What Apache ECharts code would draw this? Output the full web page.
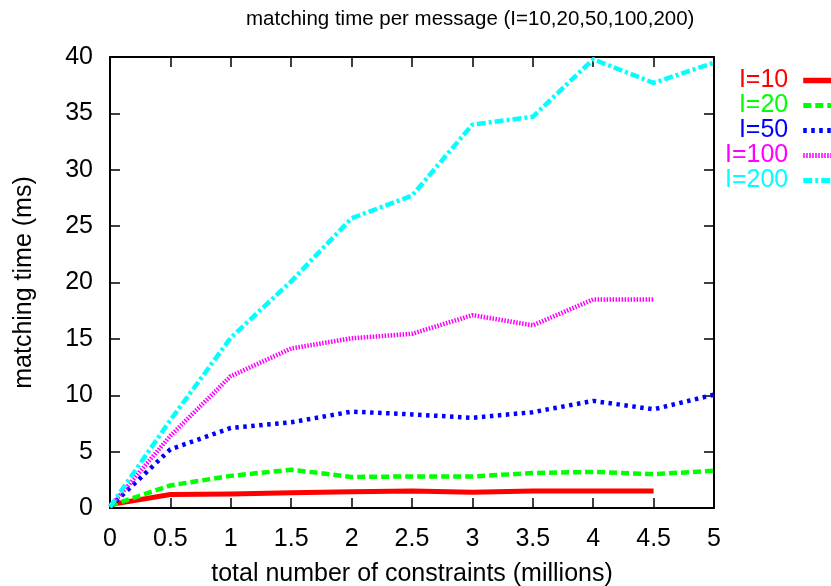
<!DOCTYPE html>
<html>
<head>
<meta charset="utf-8">
<title>matching time per message</title>
<script src="https://cdn.jsdelivr.net/npm/echarts@6/dist/echarts.min.js"></script>
<style>
  html, body { margin: 0; padding: 0; background: #fff; }
  #chart { width: 831px; height: 586px; }
</style>
</head>
<body>
<div id="chart"></div>
<script>
// x positions: total number of constraints (millions)
const constraints = [0, 0.5, 1, 1.5, 2, 2.5, 3, 3.5, 4, 4.5, 5];

// matching time per message (ms) for each l
const timeL10  = [0.3, 1.2, 1.25, 1.35, 1.45, 1.5, 1.4, 1.5, 1.5, 1.5];
const timeL20  = [0.2, 2.0, 2.85, 3.4, 2.75, 2.8, 2.8, 3.1, 3.2, 3.0, 3.3];
const timeL50  = [0.1, 5.2, 7.1, 7.6, 8.55, 8.3, 8.0, 8.5, 9.5, 8.75, 10.05];
const timeL100 = [0.1, 6.4, 11.7, 14.15, 15.05, 15.45, 17.1, 16.2, 18.5, 18.5];
const timeL200 = [0.1, 7.8, 15.1, 20.1, 25.7, 27.7, 34.0, 34.7, 39.8, 37.7, 39.5];

const seriesNames = ['I=10', 'I=20', 'I=50', 'I=100', 'I=200'];
const seriesColors = ['#ff0000', '#00ff00', '#0000ff', '#ff00ff', '#00ffff'];
const seriesDash = ['solid', [8, 4], [3.5, 4.5], [1.5, 1.5], [9, 3, 3, 3]];
const seriesWidth = [5, 4.5, 4.5, 4.5, 4.5];
const seriesValues = [timeL10, timeL20, timeL50, timeL100, timeL200];

const FONT = '"Liberation Sans", Arial, sans-serif';
const LABEL_SIZE = 25;

function pairs(values) {
  return values.map((v, i) => [constraints[i], v]);
}

const chart = echarts.init(document.getElementById('chart'), null, { renderer: 'canvas' });

const baseAxis = {
  min: 0,
  axisLine: { show: true, onZero: false, lineStyle: { color: '#000', width: 2 } },
  axisTick: { show: true, inside: true, length: 10, lineStyle: { color: '#000', width: 1.5 } },
  splitLine: { show: false }
};

chart.setOption({
  backgroundColor: '#fff',
  animation: false,
  title: {
    text: 'matching time per message (I=10,20,50,100,200)',
    left: 241,
    top: 4,
    textStyle: { fontFamily: FONT, fontSize: 20.5, fontWeight: 'normal', color: '#000' }
  },
  legend: {
    orient: 'vertical',
    align: 'right',
    right: -3,
    top: 68,
    padding: 0,
    itemGap: 0,
    itemWidth: 28,
    itemHeight: 14,
    itemStyle: { opacity: 0 },
    data: seriesNames.map((n, i) => ({
      name: n,
      textStyle: { color: seriesColors[i] },
      lineStyle: { width: seriesWidth[i] + 0.5, color: seriesColors[i], type: seriesDash[i] }
    })),
    textStyle: { fontFamily: FONT, fontSize: LABEL_SIZE, lineHeight: 25, padding: [0, 10, 0, 0] }
  },
  grid: { left: 110, right: 117, top: 57, bottom: 78, outerBoundsMode: 'none', containLabel: false },
  xAxis: [
    Object.assign({}, baseAxis, {
      type: 'value', position: 'bottom', max: 5, interval: 0.5,
      name: 'total number of constraints (millions)',
      nameLocation: 'middle', nameGap: 54,
      nameTextStyle: { fontFamily: FONT, fontSize: LABEL_SIZE, color: '#000' },
      axisLabel: { fontFamily: FONT, fontSize: LABEL_SIZE, color: '#000', margin: 19 }
    }),
    Object.assign({}, baseAxis, {
      type: 'value', position: 'top', max: 5, interval: 0.5,
      axisLabel: { show: false }
    })
  ],
  yAxis: [
    Object.assign({}, baseAxis, {
      type: 'value', position: 'left', max: 40, interval: 5,
      name: 'matching time (ms)',
      nameLocation: 'middle', nameGap: 73,
      nameTextStyle: { fontFamily: FONT, fontSize: LABEL_SIZE, color: '#000' },
      axisLabel: { fontFamily: FONT, fontSize: LABEL_SIZE, color: '#000', margin: 17 }
    }),
    Object.assign({}, baseAxis, {
      type: 'value', position: 'right', max: 40, interval: 5,
      axisLabel: { show: false }
    })
  ],
  series: seriesNames.map((n, i) => ({
    name: n,
    type: 'line',
    xAxisIndex: 0,
    yAxisIndex: 0,
    data: pairs(seriesValues[i]),
    showSymbol: false,
    symbol: 'none',
    color: seriesColors[i],
    lineStyle: { color: seriesColors[i], width: seriesWidth[i], type: seriesDash[i], cap: 'butt', join: 'round' }
  }))
});
</script>
</body>
</html>
